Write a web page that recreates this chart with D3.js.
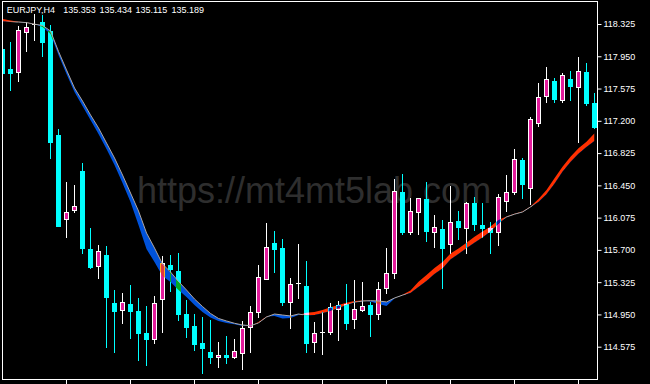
<!DOCTYPE html>
<html>
<head>
<meta charset="utf-8">
<script src="https://d3js.org/d3.v7.min.js"></script>
<style>
  html, body { margin: 0; padding: 0; background: #000; }
  svg { display: block; }
  .axis text { fill: #fff; font-family: "Liberation Sans", Arial, sans-serif; font-size: 9px; }
  .axis line { stroke: #fff; }
  .axis path { display: none; }
</style>
</head>
<body>
<div id="chart"></div>
<script>
// header line
const symbol = 'EURJPY,H4';
const quote = [135.353, 135.434, 135.115, 135.189];

// H4 candles, oldest -> newest
const opens = [118.031, 117.799, 117.762, 118.236, 118.322, 118.345, 118.244, 117.035, 116.063, 116.164,
  116.617, 115.710, 115.516, 115.641, 115.079, 115.007, 115.068, 114.990, 114.738, 114.668,
  115.126, 115.521, 115.455, 114.955, 114.816, 114.622, 114.517, 114.452, 114.479, 114.452,
  114.498, 114.804, 114.984, 115.358, 115.780, 115.719, 115.098, 115.312, 115.280, 114.626,
  114.749, 114.749, 115.010, 115.071, 114.893, 115.002, 115.060, 114.952, 115.254, 115.428,
  116.373, 115.911, 116.137, 116.291, 115.911, 115.943, 115.768, 116.036, 115.951, 116.241,
  115.989, 115.951, 115.911, 116.272, 116.376, 116.745, 116.423, 117.178, 117.492, 117.663,
  117.442, 117.686, 117.590, 117.764, 117.404];
const highs = [118.058, 118.112, 118.302, 118.343, 118.441, 118.430, 118.314, 117.105, 116.486, 116.454,
  116.706, 115.951, 115.757, 115.745, 115.234, 115.199, 115.292, 115.138, 115.048, 115.164,
  115.629, 115.641, 115.664, 115.118, 114.955, 114.920, 114.885, 114.626, 114.699, 114.661,
  114.877, 115.048, 115.524, 116.009, 115.920, 115.823, 115.373, 115.768, 115.571, 114.859,
  114.982, 115.086, 115.106, 115.304, 115.350, 115.323, 115.098, 115.323, 115.726, 116.520,
  116.582, 116.300, 116.303, 116.486, 116.106, 116.047, 116.446, 116.152, 116.253, 116.318,
  116.241, 116.028, 116.346, 116.570, 116.873, 116.764, 117.248, 117.643, 117.829, 117.701,
  117.752, 117.779, 117.945, 117.868, 117.520];
const lows = [117.721, 117.558, 117.666, 118.015, 118.139, 117.957, 116.771, 115.978, 115.853, 116.144,
  115.667, 115.493, 115.377, 114.575, 114.517, 114.854, 114.680, 114.420, 114.362, 114.615,
  114.749, 115.228, 114.882, 114.691, 114.537, 114.266, 114.382, 114.336, 114.389, 114.444,
  114.312, 114.513, 114.924, 115.358, 115.443, 115.060, 114.798, 115.138, 114.517, 114.517,
  114.490, 114.723, 114.653, 114.781, 114.796, 114.990, 114.703, 114.893, 115.196, 115.370,
  115.881, 115.881, 115.881, 115.807, 115.737, 115.254, 115.660, 115.827, 115.667, 115.931,
  115.846, 115.667, 115.757, 116.156, 116.346, 116.307, 116.230, 117.140, 117.422, 117.422,
  117.422, 117.442, 116.957, 117.384, 117.117];
const closes = [117.752, 117.752, 118.255, 118.287, 118.322, 118.119, 116.957, 115.981, 116.137, 116.210,
  115.726, 115.505, 115.687, 115.156, 114.993, 115.095, 114.993, 114.731, 114.670, 115.086,
  115.544, 115.481, 114.952, 114.807, 114.612, 114.556, 114.452, 114.475, 114.459, 114.522,
  114.789, 114.984, 115.381, 115.739, 115.707, 115.098, 115.300, 115.312, 114.615, 114.734,
  114.749, 115.033, 115.060, 114.854, 115.013, 115.048, 114.952, 115.242, 115.428, 116.384,
  115.911, 116.152, 116.300, 115.923, 115.970, 115.719, 116.021, 115.970, 116.241, 115.997,
  115.958, 115.904, 116.311, 116.369, 116.756, 116.462, 117.221, 117.473, 117.686, 117.454,
  117.732, 117.608, 117.779, 117.404, 117.132];

// the two moving averages of the ribbon
const fastMA = [118.383, 118.366, 118.351, 118.344, 118.325, 118.290, 118.209, 117.965, 117.744, 117.535,
  117.372, 117.210, 117.047, 116.873, 116.687, 116.477, 116.257, 115.989, 115.710, 115.559,
  115.397, 115.327, 115.234, 115.153, 115.060, 114.978, 114.914, 114.874, 114.850, 114.835,
  114.816, 114.816, 114.862, 114.926, 114.932, 114.903, 114.909, 114.943, 114.970, 114.978,
  115.002, 115.033, 115.060, 115.086, 115.106, 115.112, 115.100, 115.071, 115.048, 115.135,
  115.178, 115.228, 115.330, 115.408, 115.490, 115.559, 115.658, 115.716, 115.784, 115.853,
  115.914, 115.972, 116.047, 116.088, 116.119, 116.146, 116.204, 116.291, 116.396, 116.532,
  116.667, 116.783, 116.881, 116.957, 117.055];
const slowMA = [118.354, 118.348, 118.348, 118.341, 118.323, 118.308, 118.244, 118.006, 117.791, 117.581,
  117.430, 117.268, 117.117, 116.942, 116.768, 116.570, 116.361, 116.152, 115.896, 115.722,
  115.536, 115.443, 115.333, 115.234, 115.129, 115.042, 114.961, 114.903, 114.874, 114.847,
  114.827, 114.819, 114.850, 114.920, 114.955, 114.943, 114.932, 114.955, 114.938, 114.943,
  114.963, 114.990, 115.021, 115.060, 115.089, 115.106, 115.110, 115.106, 115.095, 115.141,
  115.174, 115.199, 115.268, 115.338, 115.420, 115.483, 115.588, 115.652, 115.718, 115.783,
  115.844, 115.913, 116.001, 116.082, 116.115, 116.140, 116.199, 116.256, 116.346, 116.469,
  116.608, 116.721, 116.818, 116.895, 116.965];

const priceTicks = [118.325, 117.950, 117.575, 117.200, 116.825, 116.450, 116.075, 115.700, 115.325, 114.950, 114.575];
const timeTickBars = [8, 16, 24, 32, 40, 48, 56, 64, 72];

const watermark = 'https://mt4mt5lab.com';

const W = 650, H = 384;
const frame = {left: 2.5, top: 1.5, right: 597.5, bottom: 379.5};

const bullFill = '#e31c9c', bullLine = '#ffffff', bearColor = '#00ffff';
const upColor = '#ff3000', downColor = '#0052da', maColor = '#a8a8a8';

const bars = opens.map((o, i) => ({i, o, h: highs[i], l: lows[i], c: closes[i], fast: fastMA[i], slow: slowMA[i]}));

const svg = d3.select('#chart').append('svg')
  .attr('width', W)
  .attr('height', H);

svg.append('rect').attr('width', W).attr('height', H).attr('fill', '#000');

// scales
const x = d3.scaleLinear().domain([0, bars.length - 1]).range([2.5, 2.5 + 8 * (bars.length - 1)]);
const y = d3.scaleLinear().domain([114.575, 118.325]).range([346.7, 24]);

const defs = svg.append('defs');
defs.append('clipPath').attr('id', 'plot-clip')
  .append('rect').attr('x', 3).attr('y', 2).attr('width', 594).attr('height', 377);

const aboveSlow = d3.area().x(d => x(d.i)).y0(0).y1(d => y(d.slow));
const belowSlow = d3.area().x(d => x(d.i)).y0(d => y(d.slow)).y1(H);
const aboveFast = d3.area().x(d => x(d.i)).y0(0).y1(d => y(d.fast) + 1.5);
defs.append('clipPath').attr('id', 'clip-up').append('path').attr('d', aboveSlow(bars));
defs.append('clipPath').attr('id', 'clip-down').append('path').attr('d', belowSlow(bars));
defs.append('clipPath').attr('id', 'clip-ma').append('path').attr('d', aboveFast(bars));

// watermark behind everything
svg.append('text')
  .attr('x', 137)
  .attr('y', 203)
  .attr('fill', '#2e2e2e')
  .style('font-family', '"Liberation Sans", Arial, sans-serif')
  .style('font-size', '36px')
  .text(watermark);

const plot = svg.append('g').attr('clip-path', 'url(#plot-clip)');

// candles
const candle = plot.selectAll('g.candle')
  .data(bars)
  .join('g')
  .attr('class', 'candle');

const isBear = d => d.c < d.o;

candle.append('line')
  .attr('x1', d => x(d.i))
  .attr('x2', d => x(d.i))
  .attr('y1', d => Math.round(y(d.h)))
  .attr('y2', d => Math.round(y(d.l)) + 1)
  .attr('stroke', d => isBear(d) ? bearColor : bullLine);

candle.each(function(d) {
  const g = d3.select(this);
  const top = Math.round(y(Math.max(d.o, d.c)));
  const bot = Math.round(y(Math.min(d.o, d.c))) + 1;
  const cx = x(d.i);
  if (isBear(d)) {
    g.append('rect')
      .attr('x', cx - 2.5).attr('y', top)
      .attr('width', 5).attr('height', bot - top)
      .attr('fill', bearColor);
  } else if (bot - top >= 3) {
    g.append('rect')
      .attr('x', cx - 2).attr('y', top + 0.5)
      .attr('width', 4).attr('height', bot - top - 1)
      .attr('fill', bullFill)
      .attr('stroke', bullLine);
  } else {
    g.append('rect')
      .attr('x', cx - 2.5).attr('y', top)
      .attr('width', 5).attr('height', bot - top)
      .attr('fill', bullLine);
  }
});

// ribbon between the averages, drawn like the terminal does (xor-ish over candles)
const band = d3.area().x(d => x(d.i)).y0(d => y(d.slow)).y1(d => y(d.fast));
const ribbon = plot.append('g').style('mix-blend-mode', 'difference');
ribbon.append('path')
  .attr('d', band(bars))
  .attr('fill', upColor)
  .attr('clip-path', 'url(#clip-up)');
ribbon.append('path')
  .attr('d', band(bars))
  .attr('fill', downColor)
  .attr('clip-path', 'url(#clip-down)');

plot.append('path')
  .attr('d', d3.line().x(d => x(d.i)).y(d => y(d.slow))(bars))
  .attr('fill', 'none')
  .attr('stroke', maColor)
  .attr('stroke-width', 1)
  .attr('clip-path', 'url(#clip-ma)');

// frame + axes
svg.append('rect')
  .attr('x', frame.left).attr('y', frame.top)
  .attr('width', frame.right - frame.left)
  .attr('height', frame.bottom - frame.top)
  .attr('fill', 'none')
  .attr('stroke', '#fff');

svg.append('g')
  .attr('class', 'axis axis-y')
  .attr('transform', `translate(${frame.right}, 0)`)
  .call(d3.axisRight(y).tickValues(priceTicks).tickSize(4).tickPadding(2).tickFormat(d3.format('.3f')));

svg.append('g')
  .attr('class', 'axis axis-x')
  .attr('transform', `translate(0, ${frame.bottom})`)
  .call(d3.axisBottom(x).tickValues(timeTickBars).tickSize(5).tickFormat('').offset(0));

// header
const header = svg.append('g')
  .style('font-family', '"Liberation Sans", Arial, sans-serif')
  .style('font-size', '9px')
  .attr('fill', '#fff');
header.append('text').attr('x', 6.7).attr('y', 13).text(symbol);
header.selectAll('text.q')
  .data(quote)
  .join('text')
  .attr('class', 'q')
  .attr('x', (d, i) => 63.3 + 36.1 * i)
  .attr('y', 13)
  .text(d => d.toFixed(3));
</script>
</body>
</html>
